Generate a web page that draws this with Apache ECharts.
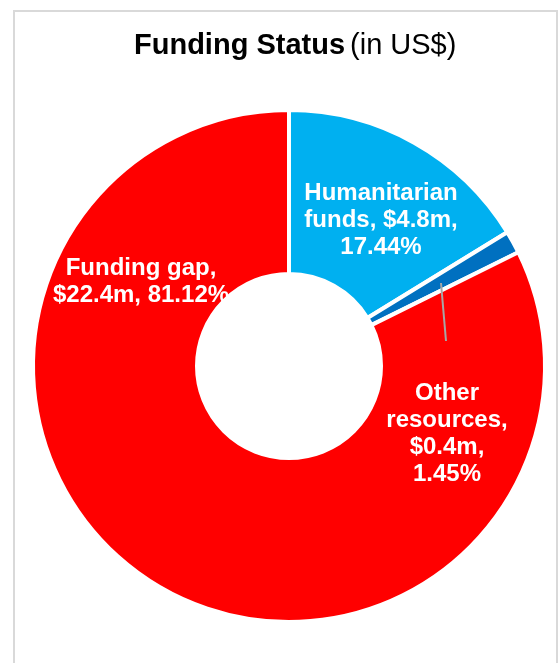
<!DOCTYPE html>
<html>
<head>
<meta charset="utf-8">
<script src="https://cdn.jsdelivr.net/npm/echarts@6/dist/echarts.min.js"></script>
<style>
html,body{margin:0;padding:0;background:#fff;}
#c{width:559px;height:663px;}
</style>
</head>
<body>
<div id="c"></div>
<script>
// Data
var categories = ["Humanitarian funds", "Other resources", "Funding gap"];
var amounts = ["$4.8m", "$0.4m", "$22.4m"];
var percents = [17.44, 1.45, 81.12];          // as printed in the labels
var arcShares = [16.25, 1.42, 82.33];          // slice sizes as drawn in the picture

// Styles
var colors = ["#00B0F0", "#0070C0", "#FF0000"];
var labelPos = [[381, 220], [447, 434], [141, 282]];

function labelText(i) {
  var p = percents[i].toFixed(2) + "%";
  if (i === 0) return "Humanitarian\nfunds, " + amounts[i] + ",\n" + p;
  if (i === 2) return "Funding gap,\n" + amounts[i] + ", " + p;
  return "Other\nresources,\n" + amounts[i] + ",\n" + p;
}

var chart = echarts.init(document.getElementById('c'), null, {renderer: 'canvas'});
var data = categories.map(function (n, i) {
  return {name: n, value: arcShares[i], itemStyle: {color: colors[i]}};
});

chart.setOption({
  animation: false,
  backgroundColor: '#fff',
  title: {
    text: '{b|Funding Status} {n|(in US$)}',
    left: 129,
    top: 26,
    textStyle: {
      rich: {
        b: {fontFamily: 'Liberation Sans, Arial', fontWeight: 'bold', fontSize: 29, color: '#000'},
        n: {fontFamily: 'Liberation Sans, Arial', fontWeight: 'normal', fontSize: 29, color: '#000'}
      }
    }
  },
  graphic: [
    {type: 'rect', shape: {x: 14, y: 11, width: 543, height: 700}, style: {fill: 'none', stroke: '#d9d9d9', lineWidth: 2}, z: 0},
    {type: 'line', shape: {x1: 441, y1: 283, x2: 446, y2: 341}, style: {stroke: '#a6a6a6', lineWidth: 2}, z: 100}
  ],
  series: [{
    type: 'pie',
    center: [289, 366],
    radius: [92, 256],
    startAngle: 90,
    clockwise: true,
    avoidLabelOverlap: false,
    itemStyle: {borderColor: '#fff', borderWidth: 4},
    label: {
      show: true,
      position: 'inside',
      color: '#fff',
      fontFamily: 'Liberation Sans, Arial',
      fontWeight: 'bold',
      fontSize: 24,
      lineHeight: 27,
      align: 'center',
      formatter: function (p) { return labelText(p.dataIndex); }
    },
    labelLine: {show: false},
    labelLayout: function (params) {
      var pos = labelPos[params.dataIndex];
      return {x: pos[0], y: pos[1], align: 'center', verticalAlign: 'middle'};
    },
    emphasis: {disabled: true},
    data: data
  }]
});
</script>
</body>
</html>
